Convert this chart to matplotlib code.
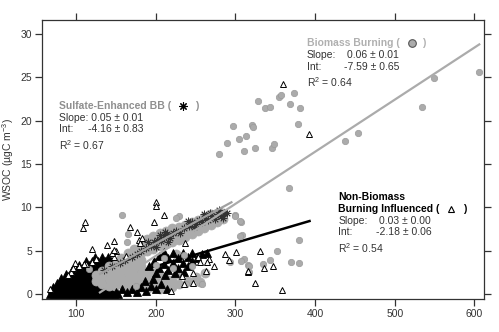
import numpy as np
import matplotlib
matplotlib.use("Agg")
import matplotlib.pyplot as plt

plt.rcParams["font.family"] = ["Liberation Sans", "DejaVu Sans"]
plt.rcParams["mathtext.fontset"] = "custom"
plt.rcParams["mathtext.rm"] = "Liberation Sans"

# ---- data ----
# biomass burning (gray circles), scattered points
bb_x = [328.7, 337, 343.4, 354.7, 357, 373.5, 368, 381, 297.4, 321, 322.5, 379,
        313.3, 304.5, 289, 279.4, 311, 324, 346, 348.8, 366.9, 548.8, 606, 534.5,
        437.5, 454.2, 379.4, 352.6, 343.4, 335, 370, 380.2, 299.5, 307, 308, 310.8,
        306.6, 315.4, 316.7, 157.3, 228.9, 299.9, 258, 165.2, 164.4, 116.7, 317, 293,
        226, 305.8, 306,
        210, 222, 235, 245, 200, 175, 238]
bb_y = [22.2, 21.4, 21.6, 22.7, 22.9, 23.2, 21.9, 21.4, 19.4, 19.5, 19.3, 19.6,
        18.2, 17.85, 17.4, 16.2, 16.5, 16.8, 16.8, 17.3, 12.2, 24.9, 25.6, 21.6,
        17.6, 18.6, 6.3, 5.0, 3.9, 3.5, 3.7, 3.6, 9.1, 8.3, 6.8, 4.1,
        3.8, 3.4, 3.25, 9.15, 9.0, 9.0, 1.2, 6.9, 6.05, 2.9, 2.6, 3.75,
        8.75, 8.4, 6.7,
        4.2, 3.0, 4.5, 3.3, 3.4, 1.0, 1.2]

# biomass burning, dense part of the cloud
bbd_x = [125, 125, 133, 133, 133, 141, 141, 141, 141, 149, 149, 149, 149,
         157, 157, 157, 157, 157, 165, 165, 165, 165, 165, 165,
         173, 173, 173, 173, 173, 173, 173, 181, 181, 181, 181, 181, 181, 181,
         189, 189, 189, 189, 189, 189, 197, 197, 197, 197, 197, 197,
         205, 205, 205, 205, 205, 205, 213, 213, 213, 213, 213,
         221, 221, 221, 221, 221, 229, 229, 229, 229, 237, 237, 237,
         245, 245, 245, 253, 253, 253, 261, 261, 261, 269, 269, 269,
         277, 277, 277, 285, 285,
         230, 250, 240, 226, 256, 262]
bbd_y = [1.5, 2.2, 1.2, 2.0, 2.7, 1.0, 1.8, 2.6, 3.2, 1.0, 1.8, 2.6, 3.4,
         1.2, 2.0, 2.8, 3.6, 4.2, 0.8, 1.6, 2.4, 3.2, 4.0, 4.7,
         0.6, 1.4, 2.2, 3.0, 3.8, 4.6, 5.2, 0.8, 1.6, 2.4, 3.2, 4.0, 4.8, 5.5,
         0.6, 1.4, 2.2, 5.0, 5.8, 6.4, 0.8, 1.6, 2.4, 5.2, 6.0, 6.7,
         0.6, 1.4, 2.2, 5.6, 6.3, 7.0, 1.0, 1.8, 5.8, 6.6, 7.3,
         0.8, 1.6, 6.0, 6.8, 7.6, 1.2, 6.3, 7.1, 7.8, 6.6, 7.3, 8.0,
         6.9, 7.6, 8.3, 7.3, 8.0, 8.6, 7.6, 8.3, 8.9, 8.0, 8.6, 9.2,
         8.3, 8.9, 9.4, 8.7, 9.3,
         2.2, 2.0, 1.5, 4.6, 1.4, 2.5]

# sulfate-enhanced BB (asterisks)
se_x = [135, 145, 155, 162, 170, 176, 182, 188, 194, 198, 202, 206, 210, 214, 218,
        222, 226, 230, 236, 242, 246, 250, 254, 258, 262, 266, 270, 274, 278, 282,
        286, 290, 190, 200, 215, 240, 260, 280, 205, 212, 248, 268, 284]
se_y = [2.8, 3.3, 3.6, 4.0, 4.3, 4.6, 5.0, 5.3, 5.6, 6.0, 6.3, 6.1, 6.6, 6.9, 6.5,
        7.0, 7.3, 7.0, 7.6, 7.9, 8.3, 8.1, 8.6, 8.3, 8.8, 8.5, 9.0, 8.7, 9.2, 9.0,
        9.4, 9.3, 6.0, 5.4, 6.0, 8.4, 9.2, 9.7, 6.8, 7.2, 7.7, 9.4, 8.8]

# non-biomass burning influenced (triangles), scattered points
nb_x = [110.9, 109.2, 200.8, 200, 210.4, 197.9, 168, 176, 120, 138.9, 147.7, 179,
        180.3, 237, 103.4, 99, 95, 93.4, 90.3, 67.4, 150, 147.7, 120.5, 112.5, 162.7,
        287.3, 300.8, 292.3, 273.2, 262.7, 246.4, 233.4, 246.8, 235.9, 219.6, 315.4,
        266.9, 264.7, 253.4, 256, 331.2, 335.5, 347.2, 324.2, 358.5, 359.7, 392.7,
        316, 182.4, 125, 145, 110.4, 96.6, 147.7]
nb_y = [8.3, 7.6, 10.65, 10.2, 9.1, 8.3, 7.8, 7.2, 5.2, 5.7, 6.1, 6.3,
        5.9, 5.9, 3.3, 3.6, 2.9, 2.56, 2.2, 0.57, 5.0, 4.3, 3.75, 3.5, 4.4,
        4.6, 4.9, 3.9, 3.3, 2.7, 2.4, 2.1, 1.26, 1.2, 0.4, 2.6,
        4.1, 3.7, 4.3, 3.7, 5.0, 3.0, 3.2, 1.26, 0.5, 24.2, 18.4,
        2.7, 6.45, 4.1, 4.8, 3.45, 3.0, 5.1]

# non-biomass burning influenced, dense low cloud (saturated black)
nbd_x = [68, 74, 80, 86, 92, 98, 104, 110, 116, 122, 128, 134, 140, 146, 152,
         71, 77, 83, 89, 95, 101, 107, 113, 119, 125, 131, 137, 143,
         76, 82, 88, 94, 100, 106, 112, 118, 124, 130, 136,
         81, 87, 93, 99, 105, 111, 117, 123, 129,
         88, 94, 100, 106, 112, 118, 124, 130,
         95, 101, 107, 113, 119, 125, 133,
         104, 110, 116, 122, 130, 138, 112, 120, 128, 136, 144, 124, 132, 140]
nbd_y = [0.2] * 15 + [0.7] * 13 + [1.2] * 11 + [1.7] * 9 + [2.2] * 8 + [2.7] * 7 + \
        [3.2] * 6 + [3.7] * 5 + [4.2] * 3

# non-biomass burning influenced, second dense patch (right of the first)
nbd2_x = [192, 198, 204, 204, 210, 210, 216, 216, 222, 222, 228, 228, 234, 234,
          240, 240, 246, 246, 252, 258, 264, 200, 212, 224, 236,
          150, 158, 164, 170, 176, 182, 188, 194, 200, 186, 196, 206, 214]
nbd2_y = [3.2, 3.8, 3.0, 4.4, 3.5, 4.9, 2.8, 4.2, 3.6, 4.8, 3.0, 4.2, 3.6, 4.8,
          3.2, 4.3, 3.8, 4.8, 4.2, 4.6, 4.8, 2.4, 2.2, 2.4, 2.6,
          0.3, 0.6, 0.3, 0.6, 0.3, 0.8, 0.4, 1.0, 0.6, 1.5, 1.8, 1.2, 0.6]

# fit lines (slope, intercept, x range)
bb_fit = (0.06, -7.59, 130, 606)
se_fit = (0.05, -4.16, 130, 295)
nb_fit = (0.027, -2.18, 80, 393)

W, H = 499, 332
fig = plt.figure(figsize=(4.99, 3.32), dpi=100)
ax = fig.add_axes([42 / W, 1 - 299.3 / H, 442.3 / W, 279.3 / H])

gray = "#ababab"
ax.plot(nbd_x, nbd_y, "^", ms=7, mfc="black", mec="black", mew=0.6, ls="none", zorder=2)
m, b, x0, x1 = nb_fit
xs = np.array([x0, x1])
ax.plot(xs, m * xs + b, color="black", lw=1.8, zorder=2.5)
ax.plot(bbd_x, bbd_y, "o", ms=6.5, mfc=gray, mec=gray, mew=0.5, ls="none", zorder=3)
ax.plot(nbd2_x, nbd2_y, "^", ms=6, mfc="black", mec="black", mew=0.6, ls="none", zorder=3.2)
ax.plot(bb_x, bb_y, "o", ms=4.6, mfc=gray, mec="#9a9a9a", mew=0.5, ls="none", zorder=3.5)
ax.plot(se_x, se_y, marker=(8, 2, 0), ms=5.5, mec="#333333", mew=0.6, ls="none", zorder=4)
ax.plot(nb_x, nb_y, "^", ms=4.3, mfc="white", mec="black", mew=0.7, ls="none", zorder=5)

for (m, b, x0, x1), c in [(bb_fit, gray), (se_fit, "#a0a0a0")]:
    xs = np.array([x0, x1])
    ax.plot(xs, m * xs + b, color=c, lw=1.6, zorder=6)

ax.set_xlim(57.3, 612.3)
ax.set_ylim(-0.58, 31.58)
ax.set_xticks([100, 200, 300, 400, 500, 600])
ax.set_yticks([0, 5, 10, 15, 20, 25, 30])
ax.tick_params(direction="out", length=5, width=0.9, labelsize=7.5, pad=2,
               top=True, right=True, colors="#333333")
for s in ax.spines.values():
    s.set_linewidth(0.9)
    s.set_color("#333333")
ax.set_ylabel("WSOC (µgC m$^{-3}$)", fontsize=7.5, labelpad=3, color="#333333")


def t(px, py, s, **kw):
    kw.setdefault("fontsize", 7.5)
    kw.setdefault("color", "#333333")
    fig.text(px / W, 1 - py / H, s, va="center", **kw)


def mark(px, py, **kw):
    ax.plot([px / W], [1 - py / H], transform=fig.transFigure, clip_on=False,
            ls="none", zorder=10, **kw)


# sulfate-enhanced BB block
t(59, 105.7, "Sulfate-Enhanced BB (", color="#8f8f8f", weight="bold")
mark(183.3, 105.7, marker=(8, 2, 0), ms=6, mec="black", mew=0.8)
t(196.7, 105.7, ")", color="#8f8f8f", weight="bold", ha="center")
t(59, 117.7, "Slope: 0.05 ± 0.01")
t(59, 129.3, "Int:")
t(87.7, 129.3, "-4.16 ± 0.83")
t(59, 145, "R$^{2}$ = 0.67")

# biomass burning block
t(306.7, 43.3, "Biomass Burning (", color="#b0b0b0", weight="bold")
mark(411.7, 43.3, marker="o", ms=5.5, mfc=gray, mec="#555555", mew=0.8)
t(424, 43.3, ")", color="#b0b0b0", weight="bold", ha="center")
t(306.7, 55.3, "Slope:")
t(346.7, 55.3, "0.06 ± 0.01")
t(306.7, 67, "Int:")
t(344.3, 67, "-7.59 ± 0.65")
t(306.7, 82, "R$^{2}$ = 0.64")

# non-biomass block
t(338.3, 196.7, "Non-Biomass", color="black", weight="bold")
t(338.3, 209, "Burning Influenced (", color="black", weight="bold")
mark(451.3, 209, marker="^", ms=5, mfc="white", mec="black", mew=0.8)
t(464.3, 209, ")", color="black", weight="bold", ha="center")
t(338.3, 221, "Slope:")
t(379, 221, "0.03 ± 0.00")
t(338.3, 232.3, "Int:")
t(376, 232.3, "-2.18 ± 0.06")
t(338.3, 248.3, "R$^{2}$ = 0.54")

fig.savefig("out.png", dpi=100)
